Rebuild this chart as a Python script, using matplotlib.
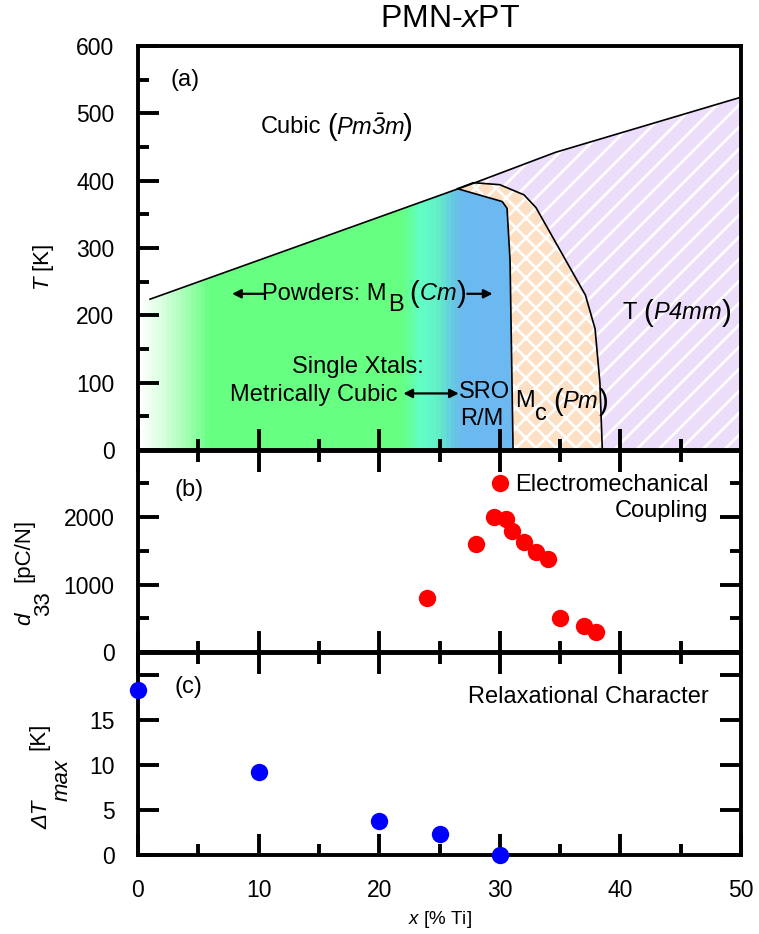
import numpy as np
import matplotlib
matplotlib.use("Agg")
import matplotlib.pyplot as plt
from matplotlib.patches import Polygon
from matplotlib.collections import LineCollection
from matplotlib.colors import LinearSegmentedColormap
from matplotlib.ticker import MultipleLocator, FixedLocator, FixedFormatter

plt.rcParams['font.family'] = ['Liberation Sans', 'DejaVu Sans']
plt.rcParams['mathtext.fontset'] = 'custom'
plt.rcParams['mathtext.rm'] = 'Liberation Sans'
plt.rcParams['mathtext.it'] = 'Liberation Sans:italic'
plt.rcParams['mathtext.sf'] = 'Liberation Sans:italic'

# phase boundaries (x in % Ti, T in K)
cubic_x = [1, 27.8, 34.6, 50]
cubic_T = [224, 396, 442, 524]
mb_x = [26.5, 30.2, 30.6, 30.85, 31.1]       # M_B / SRO  |  M_c
mb_T = [388, 369, 359, 282, 0]
mc_x = [26.5, 27.8, 30.0, 32.0, 33.0, 37.1, 37.9, 38.3, 38.5]   # M_c | T
mc_T = [388, 397, 394, 379, 360, 230, 180, 100, 0]

# piezoelectric coefficient
d33_x = [24, 28, 29.5, 30, 30.5, 31, 32, 33, 34, 35, 37, 38]
d33 = [800, 1600, 2000, 2500, 1970, 1800, 1630, 1480, 1380, 500, 390, 290]

# relaxor dispersion of T_max
dT_x = [0, 10, 20, 25, 30]
dT = [18.4, 9.2, 3.8, 2.3, 0.0]

# colour stops for the shaded monoclinic region
grad_x = [0, 1.5, 3.5, 6.0, 22.0, 23.5, 25.0, 26.0, 27.2, 31.5]
grad_c = ['#ffffff', '#e4ffe8', '#b0ffbe', '#66ff82', '#66ff82',
          '#62ffc6', '#62f0c8', '#66cde0', '#6cb9f2', '#6cb9f2']

W, H = 759.0, 934.0
fig = plt.figure(figsize=(W / 100, H / 100), dpi=100)
L, R = 138 / W, 741 / W
ax_a = fig.add_axes([L, 1 - 450 / H, R - L, (450 - 46) / H])
ax_b = fig.add_axes([L, 1 - 652 / H, R - L, (652 - 451) / H])
ax_c = fig.add_axes([L, 1 - 855 / H, R - L, (855 - 653) / H])

TICK = 16.5
FS = 17
for ax in (ax_a, ax_b, ax_c):
    for s in ax.spines.values():
        s.set_linewidth(2.8)
        s.set_zorder(4)
    ax.xaxis.set_major_locator(MultipleLocator(10))
    ax.xaxis.set_minor_locator(MultipleLocator(5))
    ax.tick_params(which='both', direction='in', width=2.8, labelsize=TICK,
                   pad=17, top=True, right=True)
    ax.tick_params(which='major', length=15)
    ax.tick_params(which='minor', length=8)
    ax.set_xlim(0, 50)


def hatch_lines(ax, clip, step_px, slope_sign, lw=2.0):
    # 45 degree white lines in screen space, clipped to a region
    bb = ax.get_position()
    wpx, hpx = bb.width * W, bb.height * H
    segs = []
    for c in np.arange(-hpx, wpx + hpx, step_px):
        if slope_sign > 0:
            segs.append([(c / wpx, 0), ((c + hpx) / wpx, 1)])
        else:
            segs.append([(c / wpx, 1), ((c + hpx) / wpx, 0)])
    lc = LineCollection(segs, colors='white', linewidths=lw,
                        transform=ax.transAxes, zorder=1.5)
    ax.add_collection(lc)
    lc.set_clip_path(clip)


def paren(ax, x0, x1, y, inner, fs=FS, pfs=21):
    ax.text(x0, y, '(', fontsize=pfs, ha='left', va='center')
    ax.text((x0 + x1) / 2, y, inner, fontsize=fs, ha='center', va='center')
    ax.text(x1, y, ')', fontsize=pfs, ha='right', va='center')


# ---------------- (a) phase diagram ----------------
ax = ax_a
T_top = np.interp(mb_x[0], cubic_x, cubic_T)
green_verts = [(0, 0), (0, cubic_T[0]), (cubic_x[0], cubic_T[0]), (mb_x[0], T_top)]
green_verts += list(zip(mb_x, mb_T))
green = Polygon(green_verts, closed=True, fc='none', ec='none', zorder=1)
ax.add_patch(green)

cmap = LinearSegmentedColormap.from_list(
    'mono', list(zip(np.array(grad_x) / grad_x[-1], grad_c)))
xs = np.arange(0, grad_x[-1], 0.4) + 0.2
img = cmap(xs / grad_x[-1])[None, :, :]
im = ax.imshow(img, extent=(0, grad_x[-1], 0, 420), aspect='auto',
               interpolation='nearest', origin='lower', zorder=1)
im.set_clip_path(green)

t_verts = list(zip(mc_x, mc_T)) + [(50, 0)]
t_verts += [(x, t) for x, t in zip(cubic_x[::-1], cubic_T[::-1]) if x >= 27.8]
t_patch = Polygon(t_verts, closed=True, fc='#ecddfa', ec='none', zorder=1)
ax.add_patch(t_patch)
mc_verts = list(zip(mb_x[::-1], mb_T[::-1])) + list(zip(mc_x, mc_T))
mc_patch = Polygon(mc_verts, closed=True, fc='#fde0c3', ec='none', zorder=1.2)
ax.add_patch(mc_patch)

ax.set_ylim(0, 600)
hatch_lines(ax, t_patch, 22, +1, lw=1.9)
hatch_lines(ax, mc_patch, 20, +1, lw=1.9)
hatch_lines(ax, mc_patch, 20, -1, lw=1.9)

ax.plot(cubic_x, cubic_T, color='black', lw=1.2, zorder=2)
ax.plot(mb_x, mb_T, color='black', lw=1.2, zorder=2)
ax.plot(mc_x, mc_T, color='black', lw=1.2, zorder=2)

ax.yaxis.set_major_locator(MultipleLocator(100))
ax.yaxis.set_minor_locator(MultipleLocator(50))
ax.tick_params(which='both', top=False, right=False, labelbottom=False)

ax.text(2.7, 550, '(a)', fontsize=FS, va='center')
ax.text(10.2, 479, 'Cubic', fontsize=FS, va='center')
paren(ax, 15.7, 22.8, 479, r'$\mathsf{Pm}\bar{\mathsf{3}}\mathsf{m}$')

ax.text(10.3, 232, 'Powders: M', fontsize=FS, va='center')
ax.text(20.7, 215, 'B', fontsize=FS, va='center')
paren(ax, 22.5, 27.2, 232, r'$\mathsf{Cm}$')
ax.annotate('', xy=(7.8, 232), xytext=(10.4, 232),
            arrowprops=dict(arrowstyle='-|>', color='black', lw=1.6,
                            mutation_scale=13, shrinkA=0, shrinkB=0))
ax.annotate('', xy=(29.4, 232), xytext=(27.3, 232),
            arrowprops=dict(arrowstyle='-|>', color='black', lw=1.6,
                            mutation_scale=13, shrinkA=0, shrinkB=0))

ax.text(18.2, 124, 'Single Xtals:', fontsize=FS, ha='center', va='center')
ax.text(21.5, 82, 'Metrically Cubic', fontsize=FS, ha='right', va='center')
ax.annotate('', xy=(22.0, 84), xytext=(26.6, 84),
            arrowprops=dict(arrowstyle='<|-|>', color='black', lw=1.6,
                            mutation_scale=13, shrinkA=0, shrinkB=0))
ax.text(26.6, 86, 'SRO', fontsize=FS, va='center')
ax.text(26.7, 46, 'R/M', fontsize=FS, va='center')

ax.text(31.3, 73, 'M', fontsize=FS, va='center')
ax.text(32.9, 53, 'c', fontsize=FS, va='center')
paren(ax, 34.4, 39.0, 72, r'$\mathsf{Pm}$')
ax.text(40.2, 203, 'T', fontsize=FS, va='center')
paren(ax, 41.9, 49.2, 203, r'$\mathsf{P4mm}$')

# ---------------- (b) d33 ----------------
ax = ax_b
ax.plot(d33_x, d33, 'o', color='#ff0000', ms=12.5, mec='none',
        clip_on=False, zorder=5)
ax.set_ylim(0, 2980)
ax.yaxis.set_major_locator(MultipleLocator(1000))
ax.yaxis.set_minor_locator(MultipleLocator(500))
ax.tick_params(labelbottom=False)
ax.text(3.0, 2400, '(b)', fontsize=FS, va='center')
ax.text(47.3, 2480, 'Electromechanical', fontsize=FS, ha='right', va='center')
ax.text(47.3, 2090, 'Coupling', fontsize=FS, ha='right', va='center')

# ---------------- (c) dT_max ----------------
ax = ax_c
ax.plot(dT_x, dT, 'o', color='#0000ff', ms=12.5, mec='none',
        clip_on=False, zorder=5)
ax.set_ylim(0, 22.5)
ax.yaxis.set_major_locator(FixedLocator([0, 5, 10, 15, 20]))
ax.yaxis.set_major_formatter(FixedFormatter(['0', '5', '10', '15', '']))
ax.tick_params(axis='y', which='minor', left=False, right=False)
ax.text(3.0, 18.7, '(c)', fontsize=FS, va='center')
ax.text(47.3, 17.6, 'Relaxational Character', fontsize=FS, ha='right',
        va='center')


# axis titles, written piece by piece (large lowered subscripts)
def ylab(xp, yp, s, **kw):
    fig.text(xp / W, 1 - yp / H, s, rotation=90, ha='center', va='center',
             fontsize=16, **kw)


ylab(44, 267, '$T$ [K]')
ylab(25, 619, 'd', style='italic')
ylab(44, 604, '33')
ylab(24, 550, '[pC/N]')
ylab(42, 815, 'ΔT', style='italic')
ylab(62, 780, 'max', style='italic')
ylab(39, 736, '[K]')

fig.text(440 / W, 1 - 919 / H, '$x$ [% Ti]', fontsize=13.5, ha='center',
         va='center')
fig.text(450 / W, 1 - 19 / H, 'PMN-$x$PT', fontsize=23, ha='center',
         va='center')

fig.savefig('out.png', dpi=100)
